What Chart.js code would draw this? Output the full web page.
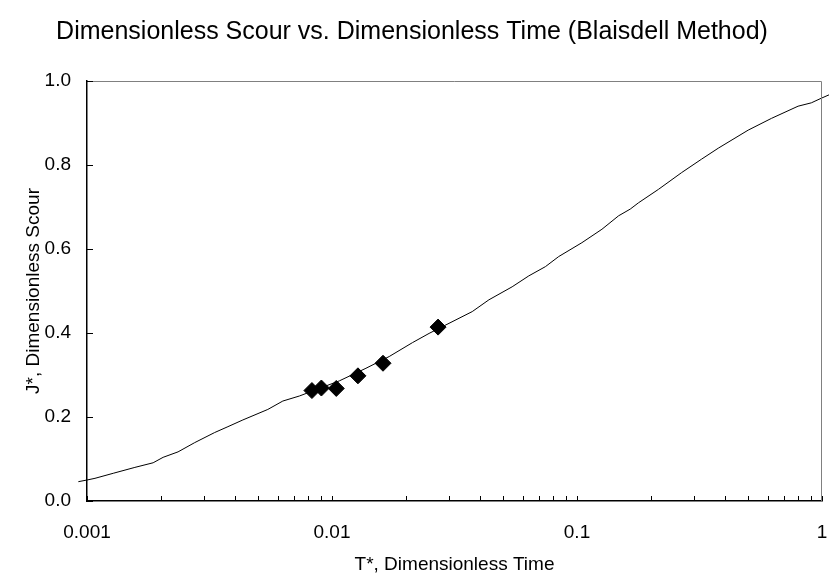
<!DOCTYPE html>
<html>
<head>
<meta charset="utf-8">
<script src="https://cdn.jsdelivr.net/npm/chart.js@4"></script>
<style>
  html, body { margin: 0; padding: 0; background: #ffffff; }
  #wrap { width: 831px; height: 580px; }
</style>
</head>
<body>
<div id="wrap"><canvas id="c" width="831" height="580"></canvas></div>
<script>
// ---- data ----
const curveT = [0.000922, 0.001, 0.001078, 0.00128, 0.001568, 0.001862, 0.002045, 0.002353, 0.002752,
  0.003319, 0.003761, 0.004327, 0.00547, 0.0063, 0.00736, 0.01071, 0.01376, 0.01712, 0.02129, 0.0249,
  0.03003, 0.03736, 0.04369, 0.05436, 0.06357, 0.07433, 0.08421, 0.1047, 0.1264, 0.1478, 0.1649,
  0.1782, 0.2150, 0.2675, 0.3226, 0.3772, 0.4997, 0.6218, 0.7986, 0.9045, 0.9934, 1.068];
const curveJ = [0.046, 0.050, 0.054, 0.066, 0.080, 0.091, 0.104, 0.117, 0.139,
  0.163, 0.177, 0.193, 0.218, 0.238, 0.250, 0.286, 0.316, 0.344, 0.377, 0.399,
  0.423, 0.451, 0.479, 0.510, 0.536, 0.558, 0.582, 0.615, 0.647, 0.679, 0.695,
  0.710, 0.742, 0.782, 0.814, 0.840, 0.883, 0.911, 0.940, 0.948, 0.959, 0.967];
const obsT = [0.00828, 0.00905, 0.01041, 0.01276, 0.01615, 0.0271];
const obsJ = [0.263, 0.269, 0.268, 0.298, 0.328, 0.414];

const xMajorTicks = [0.001, 0.01, 0.1, 1];
const xTickLabels = ['0.001', '0.01', '0.1', '1'];
const yTicks = [0, 0.2, 0.4, 0.6, 0.8, 1.0];
const yTickLabels = ['0.0', '0.2', '0.4', '0.6', '0.8', '1.0'];

const titleText = 'Dimensionless Scour vs. Dimensionless Time (Blaisdell Method)';
const xTitle = 'T*, Dimensionless Time';
const yTitle = 'J*, Dimensionless Scour';

// all x tick positions (majors plus 2..9 minors per decade)
const xAllTicks = [];
for (let d = 0; d < xMajorTicks.length; d++) {
  xAllTicks.push(xMajorTicks[d]);
  if (d < xMajorTicks.length - 1) {
    for (let m = 2; m <= 9; m++) xAllTicks.push(+(xMajorTicks[d] * m).toPrecision(6));
  }
}

const FONT = "'Liberation Sans', Arial, sans-serif";

const framePlugin = {
  id: 'frame',
  afterDatasetsDraw(chart) {
    const { ctx, chartArea: a, scales } = chart;
    ctx.save();
    // grey frame (top and right)
    ctx.strokeStyle = '#808080';
    ctx.lineWidth = 1;
    ctx.beginPath();
    ctx.moveTo(a.left, a.top + 0.5);
    ctx.lineTo(a.right - 0.5, a.top + 0.5);
    ctx.lineTo(a.right - 0.5, a.bottom);
    ctx.stroke();
    // inward ticks
    ctx.strokeStyle = '#000000';
    ctx.lineWidth = 1;
    ctx.beginPath();
    xAllTicks.forEach(v => {
      const x = Math.round(scales.x.getPixelForValue(v)) + 0.5;
      ctx.moveTo(x, a.bottom);
      ctx.lineTo(x, a.bottom - 5);
    });
    yTicks.forEach(v => {
      const y = Math.round(scales.y.getPixelForValue(v)) + 0.5;
      ctx.moveTo(a.left, y);
      ctx.lineTo(a.left + 6, y);
    });
    ctx.stroke();
    ctx.restore();
  }
};

new Chart(document.getElementById('c'), {
  type: 'scatter',
  data: {
    datasets: [
      {
        label: 'Blaisdell curve',
        type: 'line',
        data: curveT.map((t, i) => ({ x: t, y: curveJ[i] })),
        borderColor: '#000000',
        borderWidth: 1,
        pointRadius: 0,
        tension: 0,
        fill: false,
        clip: false,
        order: 2
      },
      {
        label: 'Observed',
        data: obsT.map((t, i) => ({ x: t, y: obsJ[i] })),
        pointStyle: 'rectRot',
        pointRadius: 8,
        pointBackgroundColor: '#000000',
        pointBorderColor: '#000000',
        pointBorderWidth: 1,
        order: 1
      }
    ]
  },
  options: {
    responsive: false,
    animation: false,
    devicePixelRatio: 1,
    layout: { padding: { left: 0, right: 7, top: 0, bottom: 0 } },
    plugins: {
      legend: { display: false },
      tooltip: { enabled: false },
      title: {
        display: true,
        text: titleText,
        color: '#000000',
        font: { family: FONT, size: 25, weight: 'normal' },
        padding: { top: 17, bottom: 34 }
      }
    },
    scales: {
      x: {
        type: 'logarithmic',
        min: 0.001,
        max: 1,
        afterBuildTicks(scale) { scale.ticks = xAllTicks.map(v => ({ value: v })); },
        afterFit(scale) { scale.height = 79; scale.paddingRight = 0; scale.paddingLeft = 0; },
        grid: { display: false, drawTicks: false },
        border: { display: true, color: '#000000', width: 1.5 },
        ticks: {
          autoSkip: false,
          maxRotation: 0,
          padding: 20,
          color: '#000000',
          font: { family: FONT, size: 19 },
          callback(v) {
            const i = xMajorTicks.findIndex(m => Math.abs(m - v) / m < 1e-6);
            return i >= 0 ? xTickLabels[i] : '';
          }
        },
        title: {
          display: true,
          text: xTitle,
          color: '#000000',
          font: { family: FONT, size: 19 },
          padding: { top: 0, bottom: 4 }
        }
      },
      y: {
        type: 'linear',
        min: 0,
        max: 1,
        afterBuildTicks(scale) { scale.ticks = yTicks.map(v => ({ value: v })); },
        afterFit(scale) { scale.width = 87; },
        grid: { display: false, drawTicks: false },
        border: { display: true, color: '#000000', width: 1.5 },
        ticks: {
          padding: 16,
          color: '#000000',
          font: { family: FONT, size: 19 },
          callback(v) {
            const i = yTicks.findIndex(m => Math.abs(m - v) < 1e-9);
            return i >= 0 ? yTickLabels[i] : '';
          }
        },
        title: {
          display: true,
          text: yTitle,
          color: '#000000',
          font: { family: FONT, size: 19 },
          padding: { top: 22, bottom: 0 }
        }
      }
    }
  },
  plugins: [framePlugin]
});
</script>
</body>
</html>
